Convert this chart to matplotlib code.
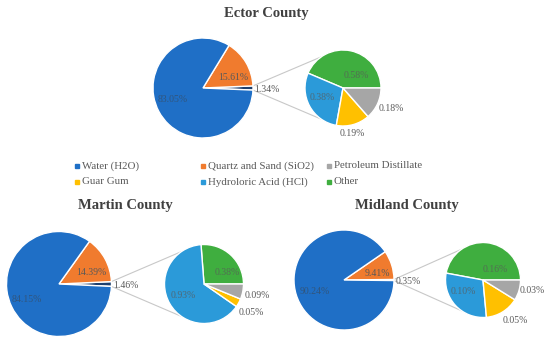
import numpy as np
import matplotlib
matplotlib.use("Agg")
import matplotlib.pyplot as plt

# ---------------- data ----------------
counties = ["Ector County", "Martin County", "Midland County"]
water = [83.05, 84.15, 90.24]
quartz = [15.61, 14.39, 9.41]
combined = [1.34, 1.46, 0.35]
# second pie: Other, HCl, Guar Gum, Petroleum Distillate
other = [0.58, 0.38, 0.16]
hcl = [0.38, 0.93, 0.10]
guar = [0.19, 0.05, 0.05]
petro = [0.18, 0.09, 0.03]

legend_labels = ["Water (H2O)", "Quartz and Sand (SiO2)", "Petroleum Distillate",
                 "Guar Gum", "Hydroloric Acid (HCl)", "Other"]

# ---------------- style ----------------
C_WATER = "#1F6FC6"
C_QUARTZ = "#F07B2E"
C_COMB = "#1C3F6E"
C_PETRO = "#A6A6A6"
C_GUAR = "#FFC000"
C_HCL = "#2B9AD9"
C_OTHER = "#3FAE3F"
TXT = "#595959"
SERIF = ["Liberation Serif", "DejaVu Serif"]

W, H = 550, 343
fig = plt.figure(figsize=(W / 100, H / 100), dpi=100)
ax = fig.add_axes([0, 0, 1, 1])
ax.set_xlim(0, W)
ax.set_ylim(0, H)
ax.set_aspect("equal")
ax.axis("off")

# layout (pixel coords, image y measured from top)
layout = [
    dict(title=(266, 13), c1=(203, 88), r1=50, c2=(343, 88), r2=38),
    dict(title=(125, 206), c1=(59, 284), r1=52.5, c2=(204, 284), r2=39.5),
    dict(title=(407, 206), c1=(344, 280), r1=50, c2=(483, 280), r2=37.5),
]
# label placement offsets relative to centres, in units of radius (x right, y up)
main_lbl = [
    dict(water=(-0.60, -0.24), quartz=(0.60, 0.22)),
    dict(water=(-0.61, -0.29), quartz=(0.61, 0.21)),
    dict(water=(-0.58, -0.24), quartz=(0.66, 0.12)),
]
sub_lbl = [
    [(0.34, 0.32), (-0.55, -0.24), (0.24, -1.21), (1.26, -0.55)],
    [(0.58, 0.28), (-0.53, -0.30), (1.21, -0.73), (1.34, -0.30)],
    [(0.32, 0.29), (-0.53, -0.32), (0.85, -1.07), (1.31, -0.29)],
]


def Y(y):
    return H - y


wp = dict(edgecolor="white", linewidth=1.0)

for i in range(3):
    L = layout[i]
    c1 = (L["c1"][0], Y(L["c1"][1]))
    c2 = (L["c2"][0], Y(L["c2"][1]))
    r1, r2 = L["r1"], L["r2"]

    vals1 = [combined[i], quartz[i], water[i]]
    half = combined[i] / 100 * 360 / 2
    ax.pie(vals1, colors=[C_COMB, C_QUARTZ, C_WATER], startangle=-half,
           counterclock=True, center=c1, radius=r1, wedgeprops=wp, frame=True)

    vals2 = [other[i], hcl[i], guar[i], petro[i]]
    ax.pie(vals2, colors=[C_OTHER, C_HCL, C_GUAR, C_PETRO], startangle=0,
           counterclock=True, center=c2, radius=r2, wedgeprops=wp, frame=True)

    # connector lines
    for s in (1, -1):
        a1 = np.deg2rad(s * half)
        a2 = np.deg2rad(s * 125)
        ax.plot([c1[0] + r1 * np.cos(a1), c2[0] + r2 * np.cos(a2)],
                [c1[1] + r1 * np.sin(a1), c2[1] + r2 * np.sin(a2)],
                color="#C8C8C8", lw=0.8, zorder=0)

    # main labels
    ml = main_lbl[i]
    ax.text(c1[0] + ml["water"][0] * r1, c1[1] + ml["water"][1] * r1,
            f"{water[i]:.2f}%", ha="center", va="center", fontsize=7,
            family=SERIF, color="#404040", alpha=0.55)
    ax.text(c1[0] + ml["quartz"][0] * r1, c1[1] + ml["quartz"][1] * r1,
            f"{quartz[i]:.2f}%", ha="center", va="center", fontsize=7,
            family=SERIF, color=TXT)
    ax.text(c1[0] + r1 + 1.5, c1[1] - 1, f"{combined[i]:.2f}%", ha="left",
            va="center", fontsize=7, family=SERIF, color=TXT)

    # sub labels
    for k, v in enumerate(vals2):
        dx, dy = sub_lbl[i][k]
        inside = k < 2
        ax.text(c2[0] + dx * r2, c2[1] + dy * r2, f"{v:.2f}%",
                ha="center", va="center",
                fontsize=7, family=SERIF, color=TXT,
                alpha=0.75 if inside else 1.0)

    ax.text(L["title"][0], Y(L["title"][1]), counties[i], ha="center",
            va="center", fontsize=10.5, fontweight="bold", family=SERIF,
            color="#404040")

# legend
leg_colors = [C_WATER, C_QUARTZ, C_PETRO, C_GUAR, C_HCL, C_OTHER]
col_x = [77, 203, 329]
row_y = [166, 182]
for k, (lab, col) in enumerate(zip(legend_labels, leg_colors)):
    x = col_x[k % 3]
    y = Y(row_y[k // 3])
    ax.add_patch(plt.Rectangle((x - 2, y - 2), 4, 4, color=col))
    ax.text(x + 5, y, lab, ha="left", va="center", fontsize=7.8,
            family=SERIF, color=TXT)

ax.set_xlim(0, W)
ax.set_ylim(0, H)
fig.savefig("out.png", dpi=100)
